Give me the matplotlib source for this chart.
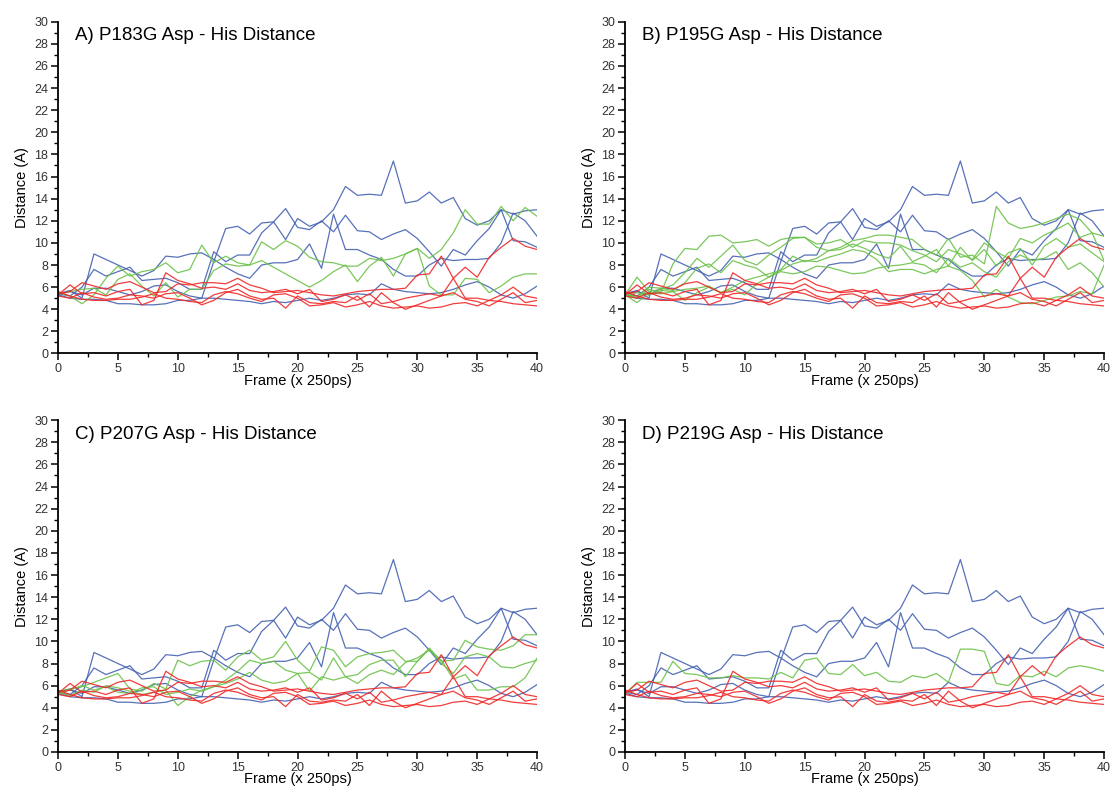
import numpy as np
import matplotlib.pyplot as plt
from matplotlib.ticker import MultipleLocator

plt.rcParams['font.family'] = ['Liberation Sans', 'DejaVu Sans']

frames = np.arange(41)

# Asp - His distance of the reference runs (same in every panel)
blue_1 = [5.4, 5.6, 5.3, 5.9, 5.9, 5.6, 5.3, 5.6, 6.1, 6.2, 5.6, 5.2, 5.0, 8.3, 11.3,
          11.5, 10.8, 11.8, 11.9, 10.3, 12.2, 11.5, 11.9, 13.0, 15.1, 14.3, 14.4, 14.3,
          17.4, 13.6, 13.8, 14.6, 13.6, 14.1, 12.2, 11.6, 12.0, 13.0, 12.6, 12.9, 13.0]
blue_2 = [5.4, 5.7, 5.0, 9.0, 8.5, 8.0, 7.5, 7.0, 7.5, 8.8, 8.7, 9.0, 9.1, 8.5, 7.8,
          7.2, 6.8, 8.0, 8.2, 8.2, 8.5, 9.9, 7.7, 12.6, 9.4, 9.4, 8.9, 8.5, 7.6, 7.0,
          7.0, 8.0, 8.6, 8.4, 8.5, 8.5, 8.6, 10.0, 12.7, 12.0, 10.6]
blue_3 = [5.4, 5.2, 6.0, 7.6, 7.0, 7.4, 7.8, 6.6, 6.7, 6.8, 6.4, 5.8, 5.8, 9.2, 8.3,
          8.9, 8.9, 10.9, 11.9, 13.1, 11.4, 11.2, 12.0, 11.0, 12.5, 11.1, 11.0, 10.3,
          10.8, 11.2, 10.4, 9.2, 7.9, 9.4, 8.9, 10.2, 11.3, 13.0, 10.2, 10.1, 9.6]
blue_4 = [5.3, 5.0, 4.9, 4.9, 4.8, 4.5, 4.5, 4.4, 4.4, 4.5, 4.8, 4.8, 5.0, 5.0, 4.9,
          4.8, 4.7, 4.5, 4.7, 4.6, 4.8, 5.0, 4.8, 5.0, 5.3, 5.4, 5.3, 6.3, 5.8, 5.6,
          5.5, 5.4, 5.5, 5.8, 6.2, 6.5, 6.0, 5.3, 5.0, 5.4, 6.1]

red_1 = [5.4, 5.6, 6.4, 6.1, 5.8, 6.3, 6.5, 6.0, 5.5, 5.6, 6.3, 6.2, 6.4, 6.4, 6.3,
         6.8, 6.2, 5.9, 5.5, 5.6, 5.7, 5.5, 5.3, 5.2, 5.4, 5.6, 5.7, 5.8, 5.8, 5.9,
         7.1, 7.2, 8.8, 6.8, 7.8, 6.9, 8.7, 9.6, 10.4, 9.7, 9.4]
red_2 = [5.3, 6.2, 5.4, 5.5, 5.2, 5.6, 5.8, 4.4, 4.8, 7.3, 6.6, 6.3, 5.9, 6.0, 5.8,
         6.3, 5.7, 5.5, 5.6, 5.8, 5.4, 5.8, 4.7, 4.9, 5.3, 4.8, 5.4, 4.5, 4.7, 5.0,
         5.2, 5.4, 5.2, 6.8, 5.0, 5.0, 4.8, 5.3, 6.0, 5.2, 5.0]
red_3 = [5.2, 5.0, 5.5, 5.1, 4.9, 5.0, 5.3, 5.2, 5.0, 5.4, 5.5, 5.0, 4.4, 4.8, 5.5,
         5.8, 5.2, 4.9, 5.0, 4.1, 5.2, 4.6, 4.5, 4.7, 4.6, 5.2, 4.2, 5.5, 4.6, 4.0,
         4.4, 4.8, 5.2, 5.5, 4.9, 4.7, 4.3, 4.9, 5.5, 4.6, 4.8]
red_4 = [5.6, 5.2, 4.9, 4.8, 4.8, 4.9, 4.9, 5.1, 5.4, 5.0, 4.9, 4.7, 4.6, 5.3, 5.6,
         5.4, 5.0, 4.7, 5.3, 5.4, 5.0, 4.3, 4.4, 4.6, 4.2, 4.4, 4.7, 4.3, 4.1, 4.2,
         4.3, 4.1, 4.2, 4.5, 4.6, 4.3, 4.8, 4.7, 4.5, 4.4, 4.3]

# mutant runs
green_a = [
    [5.5, 5.2, 4.5, 5.3, 6.8, 7.9, 7.0, 7.4, 7.6, 8.2, 7.3, 7.6, 9.8, 8.2, 8.8, 8.2,
     8.0, 10.1, 9.4, 10.2, 9.7, 8.7, 8.3, 8.2, 7.9, 7.9, 8.6, 8.4, 8.6, 9.0, 9.5,
     8.6, 9.4, 10.9, 13.0, 11.7, 11.7, 13.3, 12.0, 13.2, 12.4],
    [5.4, 5.6, 5.8, 5.9, 5.3, 6.7, 7.2, 6.1, 5.2, 6.4, 5.1, 5.8, 5.8, 7.5, 8.1, 7.9,
     8.0, 8.4, 7.8, 7.2, 6.6, 6.0, 6.6, 7.4, 8.0, 6.5, 7.9, 8.7, 7.0, 9.0, 9.5, 6.1,
     5.3, 5.3, 6.8, 6.7, 5.5, 6.1, 6.9, 7.2, 7.2],
]
green_b = [
    [5.3, 5.0, 5.8, 5.5, 8.1, 9.5, 9.4, 10.6, 10.7, 10.0, 10.1, 10.3, 9.7, 10.3, 10.5,
     10.5, 9.6, 9.3, 9.6, 10.2, 10.4, 10.7, 10.7, 10.5, 10.3, 9.4, 8.9, 10.4, 8.7,
     8.9, 8.1, 13.3, 11.8, 11.3, 11.5, 11.8, 12.2, 12.6, 12.1, 10.9, 8.4],
    [5.3, 6.9, 5.6, 5.8, 6.2, 7.3, 8.6, 7.8, 8.8, 9.8, 8.4, 8.0, 8.9, 9.6, 10.4, 10.5,
     9.9, 10.0, 10.3, 9.6, 10.2, 10.0, 10.0, 9.8, 9.3, 8.9, 8.3, 9.4, 9.0, 8.5, 10.0,
     9.2, 8.6, 10.4, 10.0, 10.7, 11.2, 11.8, 10.5, 10.9, 10.6],
    [5.4, 5.1, 6.0, 5.9, 5.7, 6.4, 7.7, 8.1, 7.3, 8.4, 8.0, 7.7, 6.9, 7.6, 8.8, 8.3,
     8.6, 9.3, 9.4, 9.9, 9.5, 9.0, 8.6, 9.7, 8.3, 8.8, 9.4, 7.9, 9.6, 8.4, 9.4, 7.9,
     9.1, 9.5, 8.0, 9.7, 10.4, 9.6, 9.9, 9.1, 8.3],
    [5.3, 4.6, 5.5, 5.4, 5.6, 4.8, 5.5, 6.0, 5.5, 6.0, 6.6, 6.9, 7.2, 7.5, 8.1, 8.4,
     8.3, 8.7, 9.0, 9.4, 9.2, 8.5, 7.4, 7.6, 7.6, 7.2, 7.6, 7.9, 7.5, 6.6, 5.1, 5.8,
     5.1, 4.6, 4.5, 4.8, 5.1, 5.2, 5.6, 5.4, 8.0],
    [5.2, 5.5, 5.3, 5.7, 5.6, 5.8, 5.9, 6.1, 5.5, 5.8, 5.3, 6.3, 6.9, 7.4, 7.2, 7.4,
     7.9, 7.8, 7.5, 7.2, 7.3, 7.7, 7.9, 8.0, 8.2, 8.0, 7.3, 8.6, 7.8, 8.2, 7.4, 6.9,
     8.3, 8.9, 8.4, 8.6, 9.2, 7.6, 8.2, 7.3, 6.0],
]
green_c = [
    [5.5, 5.7, 5.9, 6.3, 6.7, 7.1, 5.7, 5.5, 6.2, 5.7, 8.3, 7.8, 8.2, 8.3, 7.4, 8.6,
     9.2, 8.3, 8.6, 10.0, 8.3, 7.3, 9.5, 9.2, 7.7, 8.6, 8.9, 9.0, 9.2, 8.2, 8.2, 9.4,
     8.2, 8.3, 10.1, 9.5, 9.3, 9.2, 9.6, 10.6, 10.6],
    [5.4, 5.1, 5.6, 5.4, 6.0, 5.8, 5.5, 5.2, 5.4, 5.6, 4.2, 5.0, 5.6, 5.9, 6.5, 7.3,
     8.3, 8.0, 8.2, 7.4, 7.1, 7.2, 6.5, 8.5, 6.8, 7.0, 7.9, 8.3, 8.3, 6.8, 8.2, 9.3,
     8.0, 7.1, 8.6, 8.9, 8.6, 7.7, 7.6, 8.0, 8.3],
    [5.3, 5.6, 6.0, 5.6, 5.9, 5.4, 5.3, 5.8, 5.9, 5.2, 5.4, 5.7, 5.5, 5.9, 6.2, 6.6,
     7.2, 6.5, 6.2, 6.4, 7.1, 5.5, 6.8, 6.5, 6.8, 6.2, 7.0, 7.4, 7.0, 8.1, 8.5, 9.2,
     8.3, 6.6, 7.0, 5.6, 5.6, 5.9, 5.9, 6.7, 8.5],
]
green_d = [
    [5.2, 6.3, 6.3, 6.3, 8.2, 7.1, 7.0, 6.7, 6.7, 6.9, 6.7, 6.7, 6.6, 7.2, 6.7, 8.3,
     8.5, 7.1, 7.0, 7.9, 6.9, 7.2, 6.4, 6.3, 6.9, 6.7, 7.1, 6.3, 9.3, 9.3, 9.1, 6.2,
     6.0, 6.9, 6.8, 7.3, 6.8, 7.6, 7.8, 7.6, 7.3],
]

titles = ['A) P183G Asp - His Distance', 'B) P195G Asp - His Distance',
          'C) P207G Asp - His Distance', 'D) P219G Asp - His Distance']
greens = [green_a, green_b, green_c, green_d]

blue_runs = [blue_1, blue_2, blue_3, blue_4]
red_runs = [red_1, red_2, red_3, red_4]

c_blue = '#4562b2'
c_red = '#f02828'
c_green = '#6cc24a'

fig = plt.figure(figsize=(11.12, 7.94), dpi=100)
# panel boxes in figure fractions
boxes = [(0.0522, 0.5548), (0.5621, 0.5548), (0.0522, 0.0529), (0.5621, 0.0529)]

for (left, bottom), title, green_runs in zip(boxes, titles, greens):
    ax = fig.add_axes([left, bottom, 0.4308, 0.4179])
    for y in blue_runs:
        ax.plot(frames, y, color=c_blue, lw=0.9, alpha=0.9)
    for y in green_runs:
        ax.plot(frames, y, color=c_green, lw=0.9, alpha=0.9)
    for y in red_runs:
        ax.plot(frames, y, color=c_red, lw=0.9, alpha=0.9)

    ax.set_xlim(0, 40)
    ax.set_ylim(0, 30)
    ax.xaxis.set_major_locator(MultipleLocator(5))
    ax.xaxis.set_minor_locator(MultipleLocator(2.5))
    ax.yaxis.set_major_locator(MultipleLocator(2))
    ax.yaxis.set_minor_locator(MultipleLocator(1))
    ax.spines['top'].set_visible(False)
    ax.spines['right'].set_visible(False)
    for s in ['left', 'bottom']:
        ax.spines[s].set_linewidth(1.3)
    ax.tick_params(which='major', direction='out', length=5, width=1.1,
                   labelsize=9, labelcolor='#333333', pad=2)
    ax.tick_params(which='minor', direction='out', length=3, width=1.0)

    ax.set_xlabel('Frame (x 250ps)', fontsize=10.5, labelpad=-1)
    ax.set_ylabel('Distance (A)', fontsize=10.5, labelpad=4)
    ax.text(0.035, 0.957, title, transform=ax.transAxes, fontsize=13.5,
            va='center', ha='left')

fig.savefig('out.png', dpi=100)
